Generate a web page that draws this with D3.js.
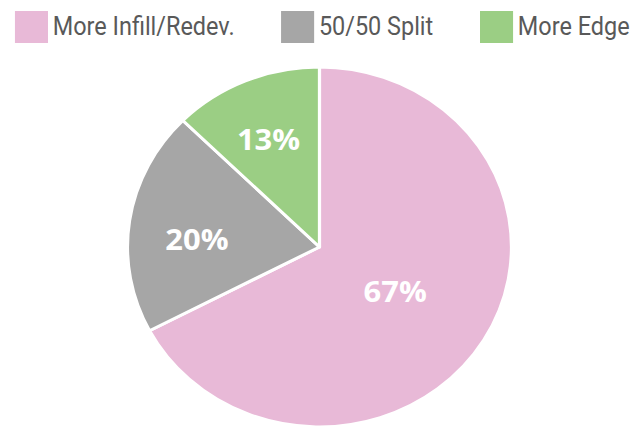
<!DOCTYPE html>
<html>
<head>
<meta charset="utf-8">
<script src="https://cdn.jsdelivr.net/npm/d3@7"></script>
<style>
  body { margin: 0; background: #fff; }
  svg { display: block; }
</style>
</head>
<body>
<div id="chart"></div>
<script>
const categories = ["More Infill/Redev.", "50/50 Split", "More Edge"];
const shares = [67.3, 20.1, 12.6];
const colors = ["#e8b9d7", "#a6a6a6", "#9bce84"];

const width = 632;
const height = 427;
// the picture is stretched a little in x, so draw in a narrower box and let it stretch
const vbWidth = 592.5;

const svg = d3.select("#chart").append("svg")
    .attr("width", width)
    .attr("height", height)
    .attr("viewBox", `0 0 ${vbWidth} ${height}`)
    .attr("preserveAspectRatio", "none");

const radius = 180;
const cx = 299.5;
const cy = 247;

const pie = d3.pie().sort(null).value(d => d);
const arcs = pie(shares);

const arc = d3.arc().innerRadius(0).outerRadius(radius);

const g = svg.append("g").attr("transform", `translate(${cx},${cy})`);

g.selectAll("path")
    .data(arcs)
    .enter().append("path")
    .attr("d", arc)
    .attr("fill", (d, i) => colors[i])
    .attr("stroke", "#fff")
    .attr("stroke-width", 3)
    .attr("stroke-linejoin", "round");

// labels sit further out on the small slices
g.selectAll("text.pct")
    .data(arcs)
    .enter().append("text")
    .attr("class", "pct")
    .attr("transform", d => {
        const r = (d.endAngle - d.startAngle) > Math.PI ? radius * 0.96 : radius * 1.29;
        const c = d3.arc().innerRadius(0).outerRadius(r).centroid(d);
        // nudge the side label down a bit, like the original
        const shift = Math.abs(Math.sin((d.startAngle + d.endAngle) / 2)) > 0.9 ? 10 : 0;
        return `translate(${c[0] - (shift ? 0 : 3)},${c[1] + shift})`;
    })
    .attr("text-anchor", "middle")
    .attr("dy", "0.36em")
    .style("font-family", "'Open Sans', sans-serif")
    .style("font-weight", "bold")
    .style("font-size", "29px")
    .style("fill", "#fff")
    .text(d => Math.round(d.data) + "%");

// legend across the top
const legendX = [14, 263.5, 450];
const legend = svg.append("g");
categories.forEach((cat, i) => {
    const item = legend.append("g").attr("transform", `translate(${legendX[i]},11)`);
    item.append("rect")
        .attr("width", 31)
        .attr("height", 32)
        .attr("fill", colors[i]);
    item.append("text")
        .attr("transform", "translate(35.5,24) scale(0.845,1)")
        .style("font-family", "Roboto, sans-serif")
        .style("font-size", "26px")
        .style("fill", "#595959")
        .text(cat);
});
</script>
</body>
</html>
